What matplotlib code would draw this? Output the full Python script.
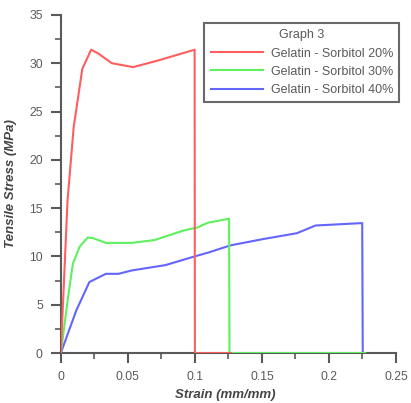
import matplotlib
matplotlib.use("Agg")
import matplotlib.pyplot as plt
from matplotlib.ticker import MultipleLocator

plt.rcParams['font.family'] = ['Liberation Sans', 'DejaVu Sans']

# Gelatin - Sorbitol 20%
strain_20 = [0, 0.005, 0.0096, 0.016, 0.0226, 0.028, 0.038, 0.054, 0.073, 0.0998, 0.1, 0.127]
stress_20 = [0, 15.8, 23.4, 29.4, 31.4, 31.0, 30.0, 29.6, 30.3, 31.4, 0, 0]

# Gelatin - Sorbitol 30%
strain_30 = [0, 0.0054, 0.009, 0.014, 0.020, 0.0238, 0.0336, 0.053, 0.070, 0.092, 0.102,
             0.105, 0.11, 0.1255, 0.1258, 0.227]
stress_30 = [0, 5.8, 9.25, 11.0, 11.95, 11.9, 11.4, 11.4, 11.7, 12.7, 13.0,
             13.2, 13.5, 13.9, 0, 0]

# Gelatin - Sorbitol 40%
strain_40 = [0, 0.0115, 0.0213, 0.0336, 0.043, 0.053, 0.078, 0.0998, 0.11, 0.1267,
             0.151, 0.176, 0.190, 0.2248, 0.2252, 0.235]
stress_40 = [0, 4.4, 7.35, 8.2, 8.2, 8.55, 9.1, 10.0, 10.4, 11.15,
             11.8, 12.4, 13.2, 13.45, 0, 0]

gray = "#5a5a5a"

fig = plt.figure(figsize=(4.11, 4.03), dpi=100)
ax = fig.add_axes([0.148, 0.124, 0.8155, 0.839])

ax.plot(strain_40, stress_40, color="#6464ff", lw=1.5, label="Gelatin - Sorbitol 40%", zorder=2)
ax.plot(strain_30, stress_30, color="#5ef05e", lw=1.5, label="Gelatin - Sorbitol 30%", zorder=3)
ax.plot(strain_20, stress_20, color="#ff5e5e", lw=1.5, label="Gelatin - Sorbitol 20%", zorder=4)

ax.set_xlim(0, 0.25)
ax.set_ylim(0, 35)
ax.xaxis.set_major_locator(MultipleLocator(0.05))
ax.xaxis.set_minor_locator(MultipleLocator(0.025))
ax.yaxis.set_major_locator(MultipleLocator(5))
ax.yaxis.set_minor_locator(MultipleLocator(2.5))
ax.set_xticks([0, 0.05, 0.1, 0.15, 0.2, 0.25])
ax.set_xticklabels(["0", "0.05", "0.1", "0.15", "0.2", "0.25"])

for side in ["top", "right"]:
    ax.spines[side].set_visible(False)
for side in ["left", "bottom"]:
    ax.spines[side].set_color(gray)
    ax.spines[side].set_linewidth(1.5)

ax.tick_params(which="major", direction="out", length=7, width=1.5, color=gray,
               labelcolor=gray, labelsize=8.7, pad=6)
ax.tick_params(which="minor", direction="out", length=4, width=1.2, color=gray)

ax.set_xlabel("Strain (mm/mm)", fontsize=9.5, fontweight="bold", fontstyle="italic", color="#444444")
ax.set_ylabel("Tensile Stress (MPa)", fontsize=9.5, fontweight="bold", fontstyle="italic", color="#444444")
ax.xaxis.set_label_coords(0.49, -0.105)
ax.yaxis.set_label_coords(-0.13, 0.5)

handles, labels = ax.get_legend_handles_labels()
leg = ax.legend(handles[::-1], labels[::-1], title="Graph 3", loc="upper right",
                bbox_to_anchor=(1.01, 0.976), fontsize=9, title_fontsize=9,
                frameon=True, fancybox=False, handlelength=4.2, borderpad=0.5,
                labelspacing=0.5, handletextpad=0.6, borderaxespad=0)
leg.get_frame().set_edgecolor("#444444")
leg.get_frame().set_linewidth(1.5)
for t in leg.get_texts():
    t.set_color(gray)
leg.get_title().set_color(gray)

fig.savefig("out.png", dpi=100)
